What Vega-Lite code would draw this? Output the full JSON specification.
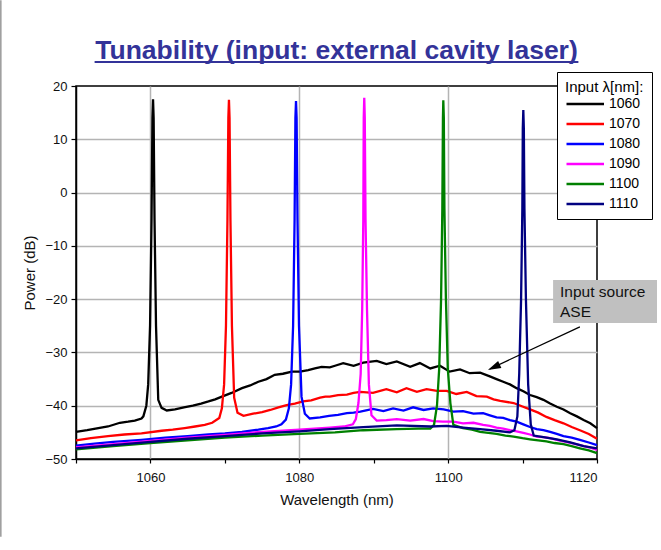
{
  "$schema": "https://vega.github.io/schema/vega-lite/v6.json",
  "width": 521,
  "height": 373,
  "autosize": "none",
  "padding": {"left": 76, "top": 86, "right": 64, "bottom": 91},
  "background": "white",
  "config": {
    "font": "Liberation Sans",
    "view": {"stroke": "#000000", "strokeWidth": 1.5}
  },
  "title": {
    "text": "Tunability (input: external cavity laser)",
    "fontSize": 26.5,
    "fontWeight": "bold",
    "color": "#333399",
    "anchor": "middle",
    "frame": "group",
    "baseline": "alphabetic",
    "offset": -86
  },
  "datasets": {
    "spectra": [
      {"lambda":"1060","x":1050,"y":-44.9},{"lambda":"1060","x":1051.5,"y":-44.6},{"lambda":"1060","x":1053,"y":-44.2},{"lambda":"1060","x":1054.3,"y":-43.9},{"lambda":"1060","x":1055.9,"y":-43.2},{"lambda":"1060","x":1057,"y":-43.0},{"lambda":"1060","x":1057.9,"y":-42.8},{"lambda":"1060","x":1058.8,"y":-42.4},
      {"lambda":"1060","x":1059.05,"y":-42.0},{"lambda":"1060","x":1059.45,"y":-40.0},{"lambda":"1060","x":1059.7,"y":-36},{"lambda":"1060","x":1059.95,"y":-25},{"lambda":"1060","x":1060.15,"y":-5},{"lambda":"1060","x":1060.27,"y":14},{"lambda":"1060","x":1060.35,"y":17.5},{"lambda":"1060","x":1060.43,"y":14},{"lambda":"1060","x":1060.55,"y":-5},{"lambda":"1060","x":1060.75,"y":-25},{"lambda":"1060","x":1061.05,"y":-38.9},{"lambda":"1060","x":1061.5,"y":-40.4},{"lambda":"1060","x":1062.2,"y":-40.9},
      {"lambda":"1060","x":1063.3,"y":-40.7},{"lambda":"1060","x":1064.5,"y":-40.3},{"lambda":"1060","x":1065.7,"y":-40.0},{"lambda":"1060","x":1066.8,"y":-39.6},{"lambda":"1060","x":1067.8,"y":-39.2},{"lambda":"1060","x":1068.7,"y":-38.8},{"lambda":"1060","x":1069.6,"y":-38.3},{"lambda":"1060","x":1070.9,"y":-37.6},{"lambda":"1060","x":1072.3,"y":-36.7},{"lambda":"1060","x":1073.4,"y":-36.2},{"lambda":"1060","x":1074.5,"y":-35.5},{"lambda":"1060","x":1075.6,"y":-35.0},{"lambda":"1060","x":1076.7,"y":-34.2},{"lambda":"1060","x":1077.8,"y":-34.0},{"lambda":"1060","x":1079,"y":-33.6},{"lambda":"1060","x":1080.1,"y":-33.6},{"lambda":"1060","x":1081.2,"y":-33.3},{"lambda":"1060","x":1082.1,"y":-33.0},{"lambda":"1060","x":1083,"y":-32.7},{"lambda":"1060","x":1084.1,"y":-32.8},{"lambda":"1060","x":1084.8,"y":-32.5},{"lambda":"1060","x":1085.9,"y":-32.0},{"lambda":"1060","x":1087.3,"y":-32.5},{"lambda":"1060","x":1088.6,"y":-31.9},{"lambda":"1060","x":1090.4,"y":-31.6},{"lambda":"1060","x":1091.7,"y":-32.2},{"lambda":"1060","x":1093.1,"y":-31.7},{"lambda":"1060","x":1094.9,"y":-32.7},{"lambda":"1060","x":1096.2,"y":-32.0},{"lambda":"1060","x":1097.6,"y":-33.0},{"lambda":"1060","x":1098.9,"y":-32.5},{"lambda":"1060","x":1100.2,"y":-33.6},{"lambda":"1060","x":1101.6,"y":-33.2},{"lambda":"1060","x":1102.9,"y":-33.9},{"lambda":"1060","x":1104.3,"y":-33.8},{"lambda":"1060","x":1105.6,"y":-34.5},{"lambda":"1060","x":1106.5,"y":-35.0},{"lambda":"1060","x":1107.4,"y":-35.5},{"lambda":"1060","x":1108.3,"y":-36.0},{"lambda":"1060","x":1109.2,"y":-36.7},{"lambda":"1060","x":1110.1,"y":-37.3},{"lambda":"1060","x":1111,"y":-38.0},{"lambda":"1060","x":1111.9,"y":-38.4},{"lambda":"1060","x":1112.8,"y":-38.9},{"lambda":"1060","x":1113.7,"y":-39.6},{"lambda":"1060","x":1114.6,"y":-40.2},{"lambda":"1060","x":1115.5,"y":-40.7},{"lambda":"1060","x":1116.4,"y":-41.4},{"lambda":"1060","x":1117.3,"y":-42.0},{"lambda":"1060","x":1118.2,"y":-42.7},{"lambda":"1060","x":1119.1,"y":-43.3},{"lambda":"1060","x":1120,"y":-44.2},

      {"lambda":"1070","x":1050,"y":-46.5},{"lambda":"1070","x":1052,"y":-46.1},{"lambda":"1070","x":1054.3,"y":-45.7},{"lambda":"1070","x":1056.5,"y":-45.4},{"lambda":"1070","x":1058.8,"y":-45.2},{"lambda":"1070","x":1061.5,"y":-44.7},{"lambda":"1070","x":1063,"y":-44.5},{"lambda":"1070","x":1064.6,"y":-44.2},{"lambda":"1070","x":1066,"y":-43.9},{"lambda":"1070","x":1067.3,"y":-43.6},{"lambda":"1070","x":1068.3,"y":-43.2},{"lambda":"1070","x":1069.25,"y":-42.3},{"lambda":"1070","x":1069.6,"y":-40.5},{"lambda":"1070","x":1069.9,"y":-36},{"lambda":"1070","x":1070.15,"y":-25},{"lambda":"1070","x":1070.35,"y":-5},{"lambda":"1070","x":1070.47,"y":14},{"lambda":"1070","x":1070.55,"y":17.4},{"lambda":"1070","x":1070.63,"y":14},{"lambda":"1070","x":1070.75,"y":-5},{"lambda":"1070","x":1070.95,"y":-25},{"lambda":"1070","x":1071.25,"y":-38.5},{"lambda":"1070","x":1071.7,"y":-41.3},{"lambda":"1070","x":1072.5,"y":-41.9},
      {"lambda":"1070","x":1073.8,"y":-41.5},{"lambda":"1070","x":1075,"y":-41.2},{"lambda":"1070","x":1076.1,"y":-40.8},{"lambda":"1070","x":1077.2,"y":-40.3},{"lambda":"1070","x":1078.3,"y":-39.9},{"lambda":"1070","x":1079.4,"y":-39.6},{"lambda":"1070","x":1080.5,"y":-39.2},{"lambda":"1070","x":1081.6,"y":-39.0},{"lambda":"1070","x":1082.8,"y":-38.5},{"lambda":"1070","x":1083.5,"y":-38.3},{"lambda":"1070","x":1084.1,"y":-38.3},{"lambda":"1070","x":1085.2,"y":-38.0},{"lambda":"1070","x":1086.4,"y":-37.9},{"lambda":"1070","x":1087.3,"y":-37.6},{"lambda":"1070","x":1088.2,"y":-37.4},{"lambda":"1070","x":1089.9,"y":-37.6},{"lambda":"1070","x":1091.7,"y":-36.9},{"lambda":"1070","x":1093.1,"y":-37.5},{"lambda":"1070","x":1094.4,"y":-36.7},{"lambda":"1070","x":1095.8,"y":-37.4},{"lambda":"1070","x":1097.1,"y":-36.9},{"lambda":"1070","x":1098.5,"y":-37.2},{"lambda":"1070","x":1099.8,"y":-37.2},{"lambda":"1070","x":1101.1,"y":-37.8},{"lambda":"1070","x":1102.5,"y":-37.4},{"lambda":"1070","x":1103.8,"y":-38.2},{"lambda":"1070","x":1105.2,"y":-38.3},{"lambda":"1070","x":1106.1,"y":-38.8},{"lambda":"1070","x":1107,"y":-39.1},{"lambda":"1070","x":1108.8,"y":-39.5},{"lambda":"1070","x":1109.9,"y":-40.1},{"lambda":"1070","x":1111,"y":-40.7},{"lambda":"1070","x":1112.1,"y":-41.3},{"lambda":"1070","x":1113.2,"y":-42.1},{"lambda":"1070","x":1114.3,"y":-42.7},{"lambda":"1070","x":1115.5,"y":-43.3},{"lambda":"1070","x":1116.6,"y":-44.0},{"lambda":"1070","x":1117.7,"y":-44.6},{"lambda":"1070","x":1118.9,"y":-45.3},{"lambda":"1070","x":1120,"y":-46.2},

      {"lambda":"1080","x":1050,"y":-47.5},{"lambda":"1080","x":1052.5,"y":-47.1},{"lambda":"1080","x":1055,"y":-46.8},{"lambda":"1080","x":1058.8,"y":-46.4},{"lambda":"1080","x":1062,"y":-46.0},{"lambda":"1080","x":1065,"y":-45.7},{"lambda":"1080","x":1067.8,"y":-45.4},{"lambda":"1080","x":1070,"y":-45.2},{"lambda":"1080","x":1072.3,"y":-44.9},{"lambda":"1080","x":1074.5,"y":-44.5},{"lambda":"1080","x":1075.8,"y":-44.2},{"lambda":"1080","x":1076.9,"y":-43.9},{"lambda":"1080","x":1077.6,"y":-43.5},{"lambda":"1080","x":1078.2,"y":-42.6},{"lambda":"1080","x":1078.6,"y":-40.5},{"lambda":"1080","x":1078.9,"y":-36},{"lambda":"1080","x":1079.17,"y":-25},{"lambda":"1080","x":1079.37,"y":-5},{"lambda":"1080","x":1079.48,"y":14},{"lambda":"1080","x":1079.56,"y":17.2},{"lambda":"1080","x":1079.64,"y":14},{"lambda":"1080","x":1079.76,"y":-5},{"lambda":"1080","x":1079.96,"y":-25},{"lambda":"1080","x":1080.3,"y":-38.3},{"lambda":"1080","x":1080.75,"y":-41.5},{"lambda":"1080","x":1081.4,"y":-42.4},
      {"lambda":"1080","x":1082.8,"y":-42.2},{"lambda":"1080","x":1084,"y":-41.9},{"lambda":"1080","x":1085.2,"y":-41.7},{"lambda":"1080","x":1086.4,"y":-41.4},{"lambda":"1080","x":1087.3,"y":-41.3},{"lambda":"1080","x":1088.2,"y":-41.1},{"lambda":"1080","x":1089.9,"y":-40.6},{"lambda":"1080","x":1091.3,"y":-41.0},{"lambda":"1080","x":1092.6,"y":-40.5},{"lambda":"1080","x":1094,"y":-40.9},{"lambda":"1080","x":1095.3,"y":-40.3},{"lambda":"1080","x":1096.7,"y":-40.8},{"lambda":"1080","x":1098,"y":-40.5},{"lambda":"1080","x":1099.4,"y":-40.7},{"lambda":"1080","x":1100.7,"y":-41.1},{"lambda":"1080","x":1102,"y":-41.0},{"lambda":"1080","x":1103.4,"y":-41.5},{"lambda":"1080","x":1104.7,"y":-41.4},{"lambda":"1080","x":1105.6,"y":-41.8},{"lambda":"1080","x":1106.5,"y":-42.2},{"lambda":"1080","x":1107.4,"y":-42.3},{"lambda":"1080","x":1108.3,"y":-42.7},{"lambda":"1080","x":1109.2,"y":-43.0},{"lambda":"1080","x":1110.1,"y":-43.5},{"lambda":"1080","x":1111,"y":-44.0},{"lambda":"1080","x":1111.9,"y":-44.4},{"lambda":"1080","x":1112.8,"y":-44.6},{"lambda":"1080","x":1113.7,"y":-44.9},{"lambda":"1080","x":1114.6,"y":-45.3},{"lambda":"1080","x":1115.5,"y":-45.7},{"lambda":"1080","x":1116.6,"y":-46.0},{"lambda":"1080","x":1117.7,"y":-46.4},{"lambda":"1080","x":1118.9,"y":-46.9},{"lambda":"1080","x":1120,"y":-47.4},

      {"lambda":"1090","x":1050,"y":-47.8},{"lambda":"1090","x":1055,"y":-47.2},{"lambda":"1090","x":1060,"y":-46.6},{"lambda":"1090","x":1065,"y":-46.0},{"lambda":"1090","x":1070,"y":-45.5},{"lambda":"1090","x":1075,"y":-44.9},{"lambda":"1090","x":1080,"y":-44.5},{"lambda":"1090","x":1084.1,"y":-44.1},{"lambda":"1090","x":1086,"y":-43.9},{"lambda":"1090","x":1087.2,"y":-43.5},{"lambda":"1090","x":1087.6,"y":-42.5},{"lambda":"1090","x":1087.95,"y":-39.5},{"lambda":"1090","x":1088.25,"y":-34},{"lambda":"1090","x":1088.45,"y":-22},{"lambda":"1090","x":1088.6,"y":-5},{"lambda":"1090","x":1088.66,"y":14},{"lambda":"1090","x":1088.73,"y":17.8},{"lambda":"1090","x":1088.8,"y":14},{"lambda":"1090","x":1088.9,"y":-5},{"lambda":"1090","x":1089.1,"y":-22},{"lambda":"1090","x":1089.35,"y":-36},{"lambda":"1090","x":1089.7,"y":-41.8},{"lambda":"1090","x":1090.4,"y":-42.8},
      {"lambda":"1090","x":1091.7,"y":-42.7},{"lambda":"1090","x":1093.1,"y":-42.5},{"lambda":"1090","x":1094.9,"y":-42.8},{"lambda":"1090","x":1096.7,"y":-42.5},{"lambda":"1090","x":1098,"y":-42.9},{"lambda":"1090","x":1099.3,"y":-43.0},{"lambda":"1090","x":1100.7,"y":-43.0},{"lambda":"1090","x":1102,"y":-43.3},{"lambda":"1090","x":1103.4,"y":-43.2},{"lambda":"1090","x":1104.7,"y":-43.6},{"lambda":"1090","x":1105.6,"y":-43.8},{"lambda":"1090","x":1106.5,"y":-44.1},{"lambda":"1090","x":1107.4,"y":-44.3},{"lambda":"1090","x":1108.3,"y":-44.6},{"lambda":"1090","x":1109.2,"y":-44.8},{"lambda":"1090","x":1110.1,"y":-45.1},{"lambda":"1090","x":1111,"y":-45.4},{"lambda":"1090","x":1111.9,"y":-45.8},{"lambda":"1090","x":1112.8,"y":-45.9},{"lambda":"1090","x":1113.7,"y":-46.1},{"lambda":"1090","x":1114.6,"y":-46.4},{"lambda":"1090","x":1115.5,"y":-46.7},{"lambda":"1090","x":1116.6,"y":-47.0},{"lambda":"1090","x":1117.7,"y":-47.4},{"lambda":"1090","x":1118.9,"y":-47.8},{"lambda":"1090","x":1120,"y":-48.3},

      {"lambda":"1100","x":1050,"y":-48.2},{"lambda":"1100","x":1055,"y":-47.6},{"lambda":"1100","x":1060,"y":-47.0},{"lambda":"1100","x":1065,"y":-46.5},{"lambda":"1100","x":1070,"y":-46.0},{"lambda":"1100","x":1075,"y":-45.6},{"lambda":"1100","x":1080,"y":-45.3},{"lambda":"1100","x":1084.8,"y":-45.0},{"lambda":"1100","x":1088.6,"y":-44.6},{"lambda":"1100","x":1093.1,"y":-44.4},{"lambda":"1100","x":1096,"y":-44.3},{"lambda":"1100","x":1097.6,"y":-44.3},{"lambda":"1100","x":1098.1,"y":-43.6},{"lambda":"1100","x":1098.5,"y":-40},{"lambda":"1100","x":1098.8,"y":-33},{"lambda":"1100","x":1099.05,"y":-20},{"lambda":"1100","x":1099.22,"y":-3},{"lambda":"1100","x":1099.3,"y":14},{"lambda":"1100","x":1099.35,"y":17.3},{"lambda":"1100","x":1099.42,"y":14},{"lambda":"1100","x":1099.5,"y":-3},{"lambda":"1100","x":1099.7,"y":-20},{"lambda":"1100","x":1099.95,"y":-33},{"lambda":"1100","x":1100.3,"y":-39.5},{"lambda":"1100","x":1100.7,"y":-43.6},
      {"lambda":"1100","x":1102,"y":-44.2},{"lambda":"1100","x":1103.2,"y":-44.5},{"lambda":"1100","x":1104.3,"y":-44.9},{"lambda":"1100","x":1105.4,"y":-45.1},{"lambda":"1100","x":1106.5,"y":-45.3},{"lambda":"1100","x":1107.7,"y":-45.6},{"lambda":"1100","x":1108.8,"y":-45.8},{"lambda":"1100","x":1110,"y":-46.1},{"lambda":"1100","x":1111,"y":-46.3},{"lambda":"1100","x":1112.1,"y":-46.5},{"lambda":"1100","x":1113.2,"y":-46.7},{"lambda":"1100","x":1114.3,"y":-47.0},{"lambda":"1100","x":1115.5,"y":-47.2},{"lambda":"1100","x":1116.6,"y":-47.6},{"lambda":"1100","x":1117.7,"y":-48.0},{"lambda":"1100","x":1118.9,"y":-48.4},{"lambda":"1100","x":1120,"y":-48.9},

      {"lambda":"1110","x":1050,"y":-48.0},{"lambda":"1110","x":1055,"y":-47.4},{"lambda":"1110","x":1060,"y":-46.8},{"lambda":"1110","x":1065,"y":-46.2},{"lambda":"1110","x":1070,"y":-45.7},{"lambda":"1110","x":1075,"y":-45.2},{"lambda":"1110","x":1080,"y":-44.8},{"lambda":"1110","x":1084.1,"y":-44.4},{"lambda":"1110","x":1088.6,"y":-44.0},{"lambda":"1110","x":1093.1,"y":-43.7},{"lambda":"1110","x":1097.6,"y":-43.9},{"lambda":"1110","x":1099.8,"y":-43.8},{"lambda":"1110","x":1102,"y":-44.1},{"lambda":"1110","x":1104.3,"y":-44.4},{"lambda":"1110","x":1106.5,"y":-44.7},{"lambda":"1110","x":1108.3,"y":-45.0},{"lambda":"1110","x":1108.9,"y":-44.6},{"lambda":"1110","x":1109.3,"y":-42},{"lambda":"1110","x":1109.55,"y":-34},{"lambda":"1110","x":1109.8,"y":-20},{"lambda":"1110","x":1109.97,"y":-3},{"lambda":"1110","x":1110.03,"y":12},{"lambda":"1110","x":1110.1,"y":15.5},{"lambda":"1110","x":1110.17,"y":12},{"lambda":"1110","x":1110.25,"y":-3},{"lambda":"1110","x":1110.45,"y":-20},{"lambda":"1110","x":1110.75,"y":-36},{"lambda":"1110","x":1111.1,"y":-43.5},{"lambda":"1110","x":1111.5,"y":-45.6},{"lambda":"1110","x":1112.8,"y":-45.9},{"lambda":"1110","x":1114.6,"y":-46.3},{"lambda":"1110","x":1116.4,"y":-46.9},{"lambda":"1110","x":1118.2,"y":-47.6},{"lambda":"1110","x":1120,"y":-48.0}
    ],
    "underline": [{"x": 1052.5, "x2": 1117.5, "y": 24.5}],
    "frameline": [{"x": 1039.9, "y": 36.1, "y2": -64.6}],
    "notebox": [{"x": 1114.1, "x2": 1128.06, "y": -16.4, "y2": -24.5}],
    "notetext": [
      {"x": 1115.03, "y": -19.6, "label": "Input source"},
      {"x": 1115.03, "y": -23.35, "label": "ASE"}
    ],
    "arrowline": [{"x": 1117.7, "y": -25.2, "x2": 1105.6, "y2": -33.1}],
    "arrowhead": [{"x": 1105.35, "y": -33.3}]
  },
  "layer": [
    {
      "data": {"name": "spectra"},
      "mark": {"type": "line", "strokeWidth": 2.3},
      "encoding": {
        "x": {
          "field": "x", "type": "quantitative",
          "scale": {"domain": [1050, 1120], "nice": false, "zero": false},
          "axis": {
            "title": "Wavelength (nm)",
            "values": [1050, 1060, 1070, 1080, 1090, 1100, 1110, 1120],
            "labelExpr": "datum.value % 20 === 0 ? datum.label : ''",
            "format": "d",
            "grid": true,
            "gridColor": {"condition": {"test": "datum.value % 20 === 0 && datum.value < 1120", "value": "#b4b4b4"}, "value": "rgba(0,0,0,0)"},
            "gridWidth": 1.5,
            "domainColor": "#000000", "domainWidth": 1.5,
            "tickColor": "#000000", "tickSize": 4, "tickWidth": 1.2,
            "labelFontSize": 13, "labelColor": "#111111", "labelPadding": 8,
            "titleFontSize": 15, "titleFontWeight": "normal", "titleColor": "#111111", "titlePadding": 8
          }
        },
        "y": {
          "field": "y", "type": "quantitative",
          "scale": {"domain": [-50, 20], "nice": false, "zero": false},
          "axis": {
            "title": "Power (dB)",
            "values": [-50, -45, -40, -35, -30, -25, -20, -15, -10, -5, 0, 5, 10, 15, 20],
            "labelExpr": "datum.value % 10 === 0 ? datum.label : ''",
            "grid": true,
            "gridColor": {"condition": {"test": "datum.value % 10 === 0 && datum.value > -50 && datum.value < 20", "value": "#b4b4b4"}, "value": "rgba(0,0,0,0)"},
            "gridWidth": 1.5,
            "domainColor": "#000000", "domainWidth": 1.5,
            "tickColor": "#000000", "tickSize": 5, "tickWidth": 1.2,
            "labelFontSize": 13, "labelColor": "#111111", "labelPadding": 4,
            "titleFontSize": 15, "titleFontWeight": "normal", "titleColor": "#111111", "titlePadding": 7
          }
        },
        "color": {
          "field": "lambda", "type": "nominal",
          "scale": {"domain": ["1060", "1070", "1080", "1090", "1100", "1110"], "range": ["#000000", "#ff0000", "#0000ff", "#ff00ff", "#008000", "#000080"]},
          "legend": {
            "title": "Input λ[nm]:",
            "orient": "none", "legendX": 481, "legendY": -14,
            "fillColor": "#ffffff", "strokeColor": "#000000",
            "padding": 8,
            "titleFontSize": 15, "titleFontWeight": "normal", "titleColor": "#000000", "titlePadding": 0,
            "labelFontSize": 14, "labelColor": "#000000", "labelOffset": 26,
            "symbolType": "M-1,0H4", "symbolSize": 225, "symbolStrokeWidth": 2.5,
            "rowPadding": 4
          }
        }
      }
    },
    {
      "data": {"name": "underline"},
      "mark": {"type": "rule", "color": "#333399", "strokeWidth": 2},
      "encoding": {
        "x": {"field": "x", "type": "quantitative"},
        "x2": {"field": "x2"},
        "y": {"field": "y", "type": "quantitative"}
      }
    },
    {
      "data": {"name": "frameline"},
      "mark": {"type": "rule", "color": "#999999", "strokeWidth": 1.5},
      "encoding": {
        "x": {"field": "x", "type": "quantitative"},
        "y": {"field": "y", "type": "quantitative"},
        "y2": {"field": "y2"}
      }
    },
    {
      "data": {"name": "notebox"},
      "mark": {"type": "rect", "color": "#c0c0c0"},
      "encoding": {
        "x": {"field": "x", "type": "quantitative"},
        "x2": {"field": "x2"},
        "y": {"field": "y", "type": "quantitative"},
        "y2": {"field": "y2"}
      }
    },
    {
      "data": {"name": "notetext"},
      "mark": {"type": "text", "align": "left", "baseline": "alphabetic", "fontSize": 15.5, "color": "#111111"},
      "encoding": {
        "x": {"field": "x", "type": "quantitative"},
        "y": {"field": "y", "type": "quantitative"},
        "text": {"field": "label"}
      }
    },
    {
      "data": {"name": "arrowline"},
      "mark": {"type": "rule", "color": "#000000", "strokeWidth": 1.2},
      "encoding": {
        "x": {"field": "x", "type": "quantitative"},
        "y": {"field": "y", "type": "quantitative"},
        "x2": {"field": "x2"},
        "y2": {"field": "y2"}
      }
    },
    {
      "data": {"name": "arrowhead"},
      "mark": {"type": "point", "shape": "M0,0L-0.6,2L0.6,2Z", "angle": 245, "filled": true, "color": "#000000", "size": 169, "opacity": 1, "strokeWidth": 0},
      "encoding": {
        "x": {"field": "x", "type": "quantitative"},
        "y": {"field": "y", "type": "quantitative"}
      }
    }
  ]
}
